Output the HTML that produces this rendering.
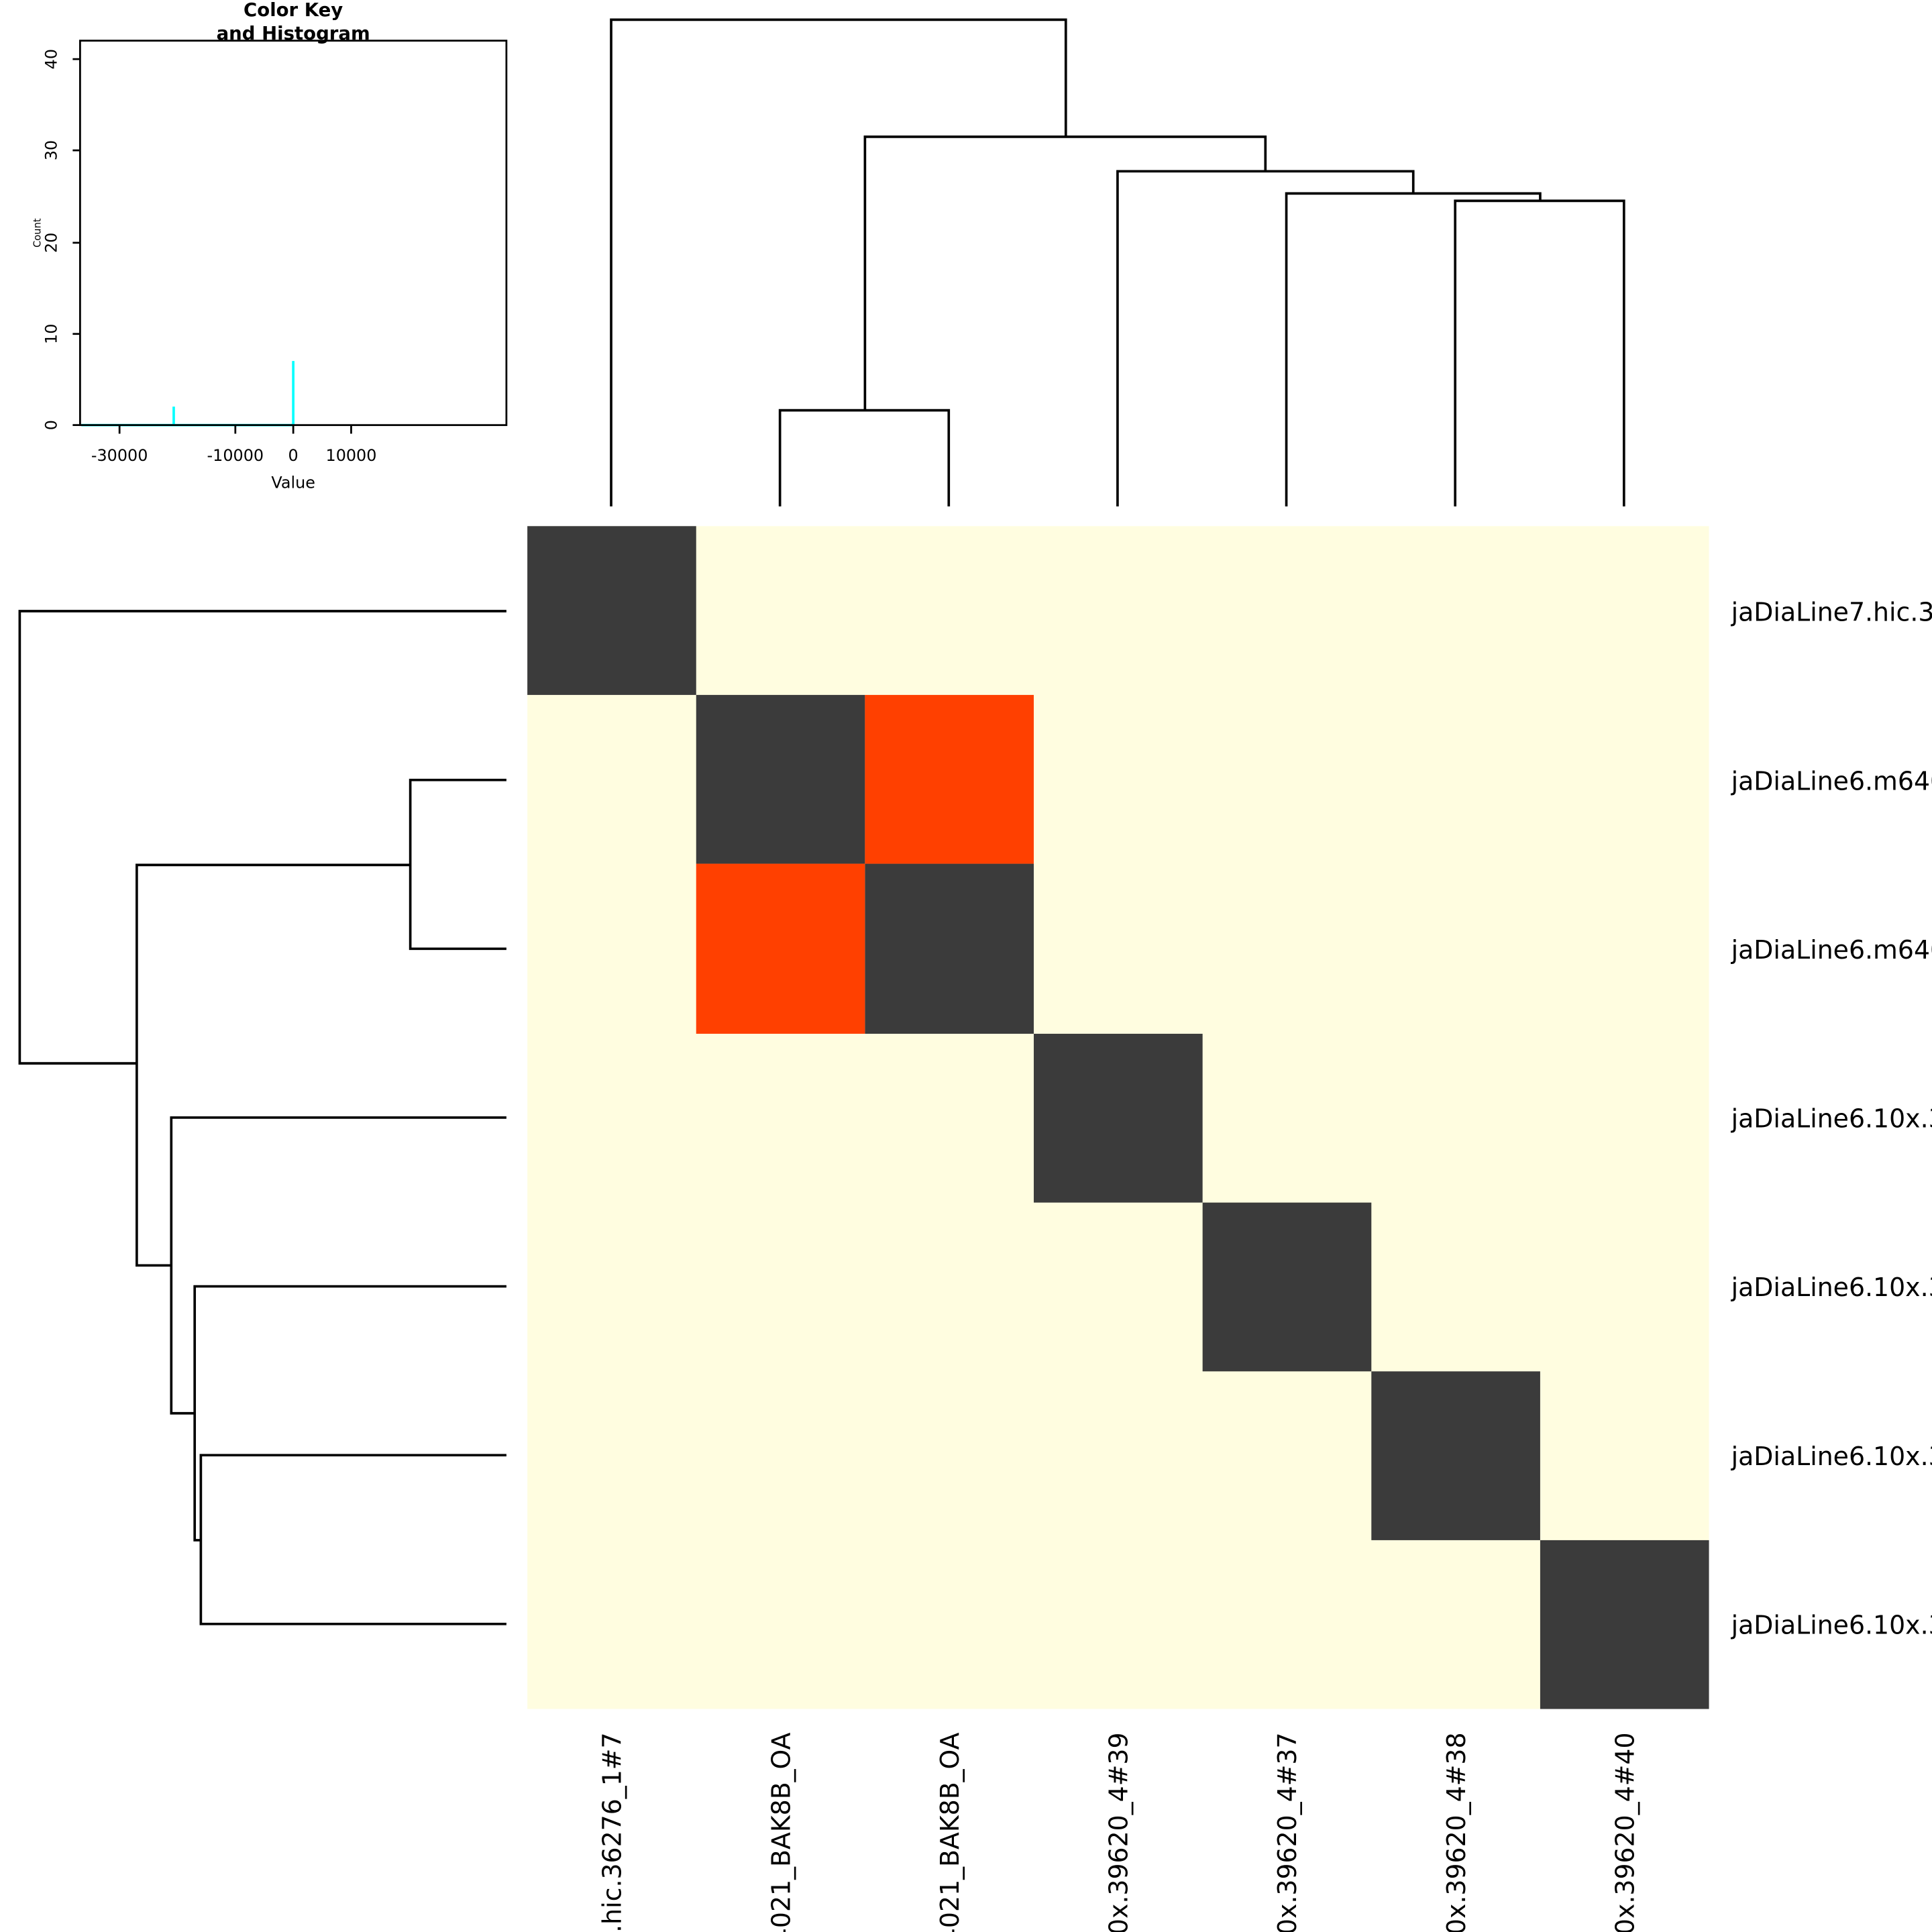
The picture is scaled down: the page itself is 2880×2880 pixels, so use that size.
<!DOCTYPE html>
<html><head><meta charset="utf-8"><style>html,body{margin:0;padding:0;background:#fff;width:2880px;height:2880px;overflow:hidden}svg{display:block}</style></head>
<body>
<svg width="2880" height="2880" viewBox="0 0 1568 1568" xmlns="http://www.w3.org/2000/svg" font-family="DejaVu Sans, Liberation Sans, sans-serif" overflow="hidden">
<rect width="1568" height="1568" fill="#fff"/>
<rect x="428" y="427" width="959" height="960" fill="#FFFDE0"/>
<g fill="#3B3B3B">
<rect x="428" y="427" width="137" height="137"/>
<rect x="565" y="564" width="137" height="137"/>
<rect x="702" y="701" width="137" height="138"/>
<rect x="839" y="839" width="137" height="137"/>
<rect x="976" y="976" width="137" height="137"/>
<rect x="1113" y="1113" width="137" height="137"/>
<rect x="1250" y="1250" width="137" height="137"/>
</g>
<g fill="#FF4000">
<rect x="702" y="564" width="137" height="137"/>
<rect x="565" y="701" width="137" height="138"/>
</g>
<g font-size="20.6" fill="#000">
<text x="1405" y="504">jaDiaLine7.hic.36276_1#7</text>
<text x="1405" y="641">jaDiaLine6.m64021_BAK8B_OA</text>
<text x="1405" y="778">jaDiaLine6.m64021_BAK8B_OA</text>
<text x="1405" y="915">jaDiaLine6.10x.39620_4#39</text>
<text x="1405" y="1052">jaDiaLine6.10x.39620_4#37</text>
<text x="1405" y="1189">jaDiaLine6.10x.39620_4#38</text>
<text x="1405" y="1326">jaDiaLine6.10x.39620_4#40</text>
</g>
<g font-size="20.6" fill="#000" text-anchor="end">
<text transform="translate(504,1406) rotate(-90)">jaDiaLine7.hic.36276_1#7</text>
<text transform="translate(641,1406) rotate(-90)">jaDiaLine6.m64021_BAK8B_OA</text>
<text transform="translate(778,1406) rotate(-90)">jaDiaLine6.m64021_BAK8B_OA</text>
<text transform="translate(915,1406) rotate(-90)">jaDiaLine6.10x.39620_4#39</text>
<text transform="translate(1052,1406) rotate(-90)">jaDiaLine6.10x.39620_4#37</text>
<text transform="translate(1189,1406) rotate(-90)">jaDiaLine6.10x.39620_4#38</text>
<text transform="translate(1326,1406) rotate(-90)">jaDiaLine6.10x.39620_4#40</text>
</g>
<g fill="none" stroke="#000" stroke-width="2">
<path d="M496,411V16H865V111"/>
<path d="M702,333V111H1027V139"/>
<path d="M633,411V333H770V411"/>
<path d="M907,411V139H1147V157"/>
<path d="M1044,411V157H1250V163"/>
<path d="M1181,411V163H1318V411"/>
</g>
<g fill="none" stroke="#000" stroke-width="2">
<path d="M411,496H16V863H111"/>
<path d="M333,702H111V1027H139"/>
<path d="M411,633H333V770H411"/>
<path d="M411,907H139V1147H158"/>
<path d="M411,1044H158V1250H163"/>
<path d="M411,1181H163V1318H411"/>
</g>
<text x="238" y="13" font-size="15" font-weight="bold" text-anchor="middle">Color Key</text>
<text x="238" y="32" font-size="15" font-weight="bold" text-anchor="middle">and Histogram</text>
<g stroke="#00FFFF" stroke-width="2" fill="none">
<path d="M66,345H238"/>
<path d="M141,345V330"/>
<path d="M238,345V293"/>
</g>
<rect x="65" y="33" width="346" height="312" fill="none" stroke="#000" stroke-width="1.5"/>
<g stroke="#000" stroke-width="1.5">
<path d="M59,345H65M59,271H65M59,197H65M59,122H65M59,48H65"/>
<path d="M97,345V352M191,345V352M238,345V352M285,345V352"/>
</g>
<g font-size="13" fill="#000" text-anchor="middle">
<text transform="translate(46,345) rotate(-90)">0</text>
<text transform="translate(46,271) rotate(-90)">10</text>
<text transform="translate(46,197) rotate(-90)">20</text>
<text transform="translate(46,122) rotate(-90)">30</text>
<text transform="translate(46,48) rotate(-90)">40</text>
<text x="97" y="374">-30000</text>
<text x="191" y="374">-10000</text>
<text x="238" y="374">0</text>
<text x="285" y="374">10000</text>
<text x="238" y="396">Value</text>
<text transform="translate(33,189) rotate(-90)" font-size="8">Count</text>
</g>
</svg>
</body></html>
